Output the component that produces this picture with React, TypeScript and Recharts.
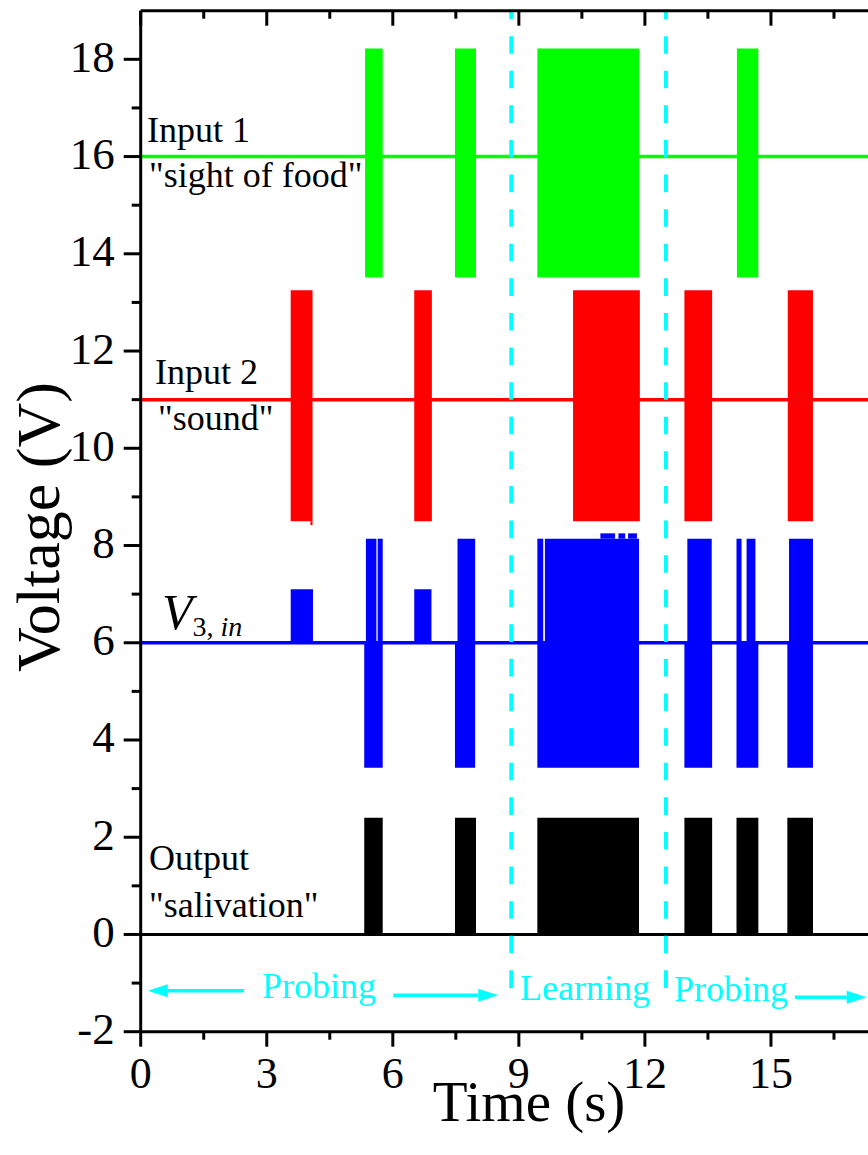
import { ComposedChart, Line, XAxis, YAxis, ReferenceArea, ReferenceLine } from 'recharts'

const serif = '"Liberation Serif", "Times New Roman", serif'
const CYAN = '#00ffff'

// axis ticks (majors get labels)
const xTicks = [0, 1.5, 3, 4.5, 6, 7.5, 9, 10.5, 12, 13.5, 15, 16.5]
const yTicks = [-2, -1, 0, 1, 2, 3, 4, 5, 6, 7, 8, 9, 10, 11, 12, 13, 14, 15, 16, 17, 18]

// resting levels of the four traces
const baseTimes = [0, 17.5]
const greenLevel = 16
const redLevel = 11
const blueLevel = 6
const blackLevel = 0

// pulse trains, [start, end] in s
const greenBursts = [[5.34, 5.76], [7.48, 7.98], [9.44, 11.86], [14.19, 14.7]]
const greenRange = [13.51, 18.22]
const redBursts = [[3.57, 4.09], [6.51, 6.93], [10.29, 11.88], [12.94, 13.6], [15.4, 16.0]]
const redRange = [8.5, 13.25]
const redTail = [[4.04, 4.09]]
const redTailRange = [8.42, 8.5]
const blueUpper = [[5.36, 5.61], [5.64, 5.76], [7.54, 7.96], [9.44, 9.58], [9.62, 11.86], [13.01, 13.59], [14.18, 14.3], [14.42, 14.63], [15.43, 16.0]]
const blueUpperRange = [6, 8.14]
const blueLower = [[5.32, 5.76], [7.48, 7.96], [9.44, 11.86], [12.94, 13.6], [14.18, 14.7], [15.39, 16.0]]
const blueLowerRange = [3.43, 6]
const blueSmall = [[3.57, 4.1], [6.51, 6.92]]
const blueSmallRange = [6, 7.1]
const blueSpikes = [[10.94, 11.29], [11.37, 11.53], [11.6, 11.81]]
const blueSpikeRange = [8.14, 8.25]
const blackBursts = [[5.32, 5.76], [7.48, 7.98], [9.44, 11.86], [12.94, 13.6], [14.18, 14.7], [15.39, 16.0]]
const blackRange = [0, 2.4]

// phase markers
const phaseLines = [8.82, 12.5]
const phaseSpan = [-1.1, 19]
const arrows = [
  { from: 2.46, to: 0.17, v: -1.16 },
  { from: 6.01, to: 8.51, v: -1.25 },
  { from: 15.57, to: 17.28, v: -1.29 },
]

const baseData = baseTimes.map((t) => ({
  t,
  green: greenLevel,
  red: redLevel,
  blue: blueLevel,
  black: blackLevel,
}))

const BottomTick = (props: any) => {
  const { x, y, payload } = props
  const major = payload.value % 3 === 0
  return (
    <g>
      <line x1={x} y1={y} x2={x} y2={y + (major ? 15 : 8)} stroke="#000" strokeWidth={3} />
      {major && (
        <text x={x} y={y + 56} textAnchor="middle" fontSize={44} fontFamily={serif} fill="#000">
          {payload.value}
        </text>
      )}
    </g>
  )
}

const TopTick = (props: any) => {
  const { x, y, payload } = props
  const major = payload.value % 3 === 0
  return <line x1={x} y1={y} x2={x} y2={y + (major ? 15 : 8)} stroke="#000" strokeWidth={3} />
}

const LeftTick = (props: any) => {
  const { x, y, payload } = props
  const major = payload.value % 2 === 0
  return (
    <g>
      <line x1={x} y1={y} x2={x - (major ? 17 : 9)} y2={y} stroke="#000" strokeWidth={3} />
      {major && (
        <text x={x - 26} y={y + 12.5} textAnchor="end" fontSize={45} fontFamily={serif} fill="#000">
          {payload.value}
        </text>
      )}
    </g>
  )
}

const RightTick = (props: any) => {
  const { x, y, payload } = props
  const major = payload.value % 2 === 0
  return <line x1={x} y1={y} x2={x - (major ? 17 : 9)} y2={y} stroke="#000" strokeWidth={3} />
}

const Arrow = (props: any) => {
  const { x1, y1, x2, y2 } = props
  const dir = x2 > x1 ? 1 : -1
  const base = x2 - dir * 20
  return (
    <g>
      <line x1={x1} y1={y1} x2={base} y2={y2} stroke={CYAN} strokeWidth={3.5} />
      <polygon points={`${x2},${y2} ${base},${y2 - 6.5} ${base},${y2 + 6.5}`} fill={CYAN} />
    </g>
  )
}

function bursts(list: number[][], range: number[], color: string, key: string) {
  return list.map(([a, b], i) => (
    <ReferenceArea
      key={`${key}${i}`}
      xAxisId="b"
      yAxisId="l"
      x1={a}
      x2={b}
      y1={range[0]}
      y2={range[1]}
      fill={color}
      fillOpacity={1}
      stroke="none"
    />
  ))
}

const notes = [
  { text: 'Input 1', x: 147, y: 142 },
  { text: '"sight of food"', x: 149, y: 187 },
  { text: 'Input 2', x: 155, y: 384 },
  { text: '"sound"', x: 158, y: 430 },
  { text: 'Output', x: 149, y: 870 },
  { text: '"salivation"', x: 149, y: 917 },
]

const phases = [
  { text: 'Probing', x: 262, y: 998 },
  { text: 'Learning', x: 520, y: 1000 },
  { text: 'Probing', x: 674, y: 1001 },
]

export default function App() {
  return (
    <div style={{ position: 'absolute', left: 0, top: 0, width: 868, height: 1155, overflow: 'hidden', background: '#fff' }}>
      <ComposedChart
        width={900}
        height={1155}
        data={baseData}
        margin={{ top: 0, right: 0, bottom: 0, left: 0 }}
        style={{ fontFamily: serif }}
      >
        <XAxis
          xAxisId="b"
          dataKey="t"
          type="number"
          orientation="bottom"
          domain={[0, 17.5]}
          ticks={xTicks}
          interval={0}
          height={123.3}
          tickSize={0}
          tickMargin={0}
          tickLine={false}
          tick={BottomTick}
          axisLine={{ stroke: '#000', strokeWidth: 3 }}
        />
        <XAxis
          xAxisId="t"
          dataKey="t"
          type="number"
          orientation="top"
          domain={[0, 17.5]}
          ticks={xTicks}
          interval={0}
          height={10.7}
          tickSize={0}
          tickMargin={0}
          tickLine={false}
          tick={TopTick}
          axisLine={{ stroke: '#000', strokeWidth: 3 }}
        />
        <YAxis
          yAxisId="l"
          type="number"
          orientation="left"
          domain={[-2, 19]}
          ticks={yTicks}
          interval={0}
          width={140.7}
          tickSize={0}
          tickMargin={0}
          tickLine={false}
          tick={LeftTick}
          axisLine={{ stroke: '#000', strokeWidth: 3 }}
        />
        <YAxis
          yAxisId="r"
          type="number"
          orientation="right"
          domain={[-2, 19]}
          ticks={yTicks}
          interval={0}
          width={24}
          tickSize={0}
          tickMargin={0}
          tickLine={false}
          tick={RightTick}
          axisLine={{ stroke: '#000', strokeWidth: 3 }}
        />

        {bursts(greenBursts, greenRange, '#00ff00', 'g')}
        {bursts(redBursts, redRange, '#ff0000', 'r')}
        {bursts(redTail, redTailRange, '#ff0000', 'rt')}
        {bursts(blueUpper, blueUpperRange, '#0000ff', 'bu')}
        {bursts(blueLower, blueLowerRange, '#0000ff', 'bl')}
        {bursts(blueSmall, blueSmallRange, '#0000ff', 'bs')}
        {bursts(blueSpikes, blueSpikeRange, '#0000ff', 'bk')}
        {bursts(blackBursts, blackRange, '#000000', 'k')}

        <Line xAxisId="b" yAxisId="l" dataKey="green" stroke="#00ff00" strokeWidth={3.5} dot={false} isAnimationActive={false} />
        <Line xAxisId="b" yAxisId="l" dataKey="red" stroke="#ff0000" strokeWidth={3.5} dot={false} isAnimationActive={false} />
        <Line xAxisId="b" yAxisId="l" dataKey="blue" stroke="#0000ff" strokeWidth={3.5} dot={false} isAnimationActive={false} />
        <Line xAxisId="b" yAxisId="l" dataKey="black" stroke="#000000" strokeWidth={3} dot={false} isAnimationActive={false} />

        {phaseLines.map((t) => (
          <ReferenceLine
            key={`p${t}`}
            xAxisId="b"
            yAxisId="l"
            segment={[{ x: t, y: phaseSpan[0] }, { x: t, y: phaseSpan[1] }]}
            stroke={CYAN}
            strokeWidth={4}
            strokeDasharray="17.6 17"
          />
        ))}
        {arrows.map((a, i) => (
          <ReferenceLine
            key={`a${i}`}
            xAxisId="b"
            yAxisId="l"
            segment={[{ x: a.from, y: a.v }, { x: a.to, y: a.v }]}
            shape={Arrow}
          />
        ))}

        {notes.map((n, i) => (
          <text key={`n${i}`} x={n.x} y={n.y} fontSize={36} fontFamily={serif} fill="#000">
            {n.text}
          </text>
        ))}
        <text x={162} y={629} fontSize={50} fontFamily={serif} fontStyle="italic" fill="#000">
          V
          <tspan fontSize={28} fontStyle="normal" dy={7}>3, </tspan>
          <tspan fontSize={28} fontStyle="italic">in</tspan>
        </text>
        {phases.map((p, i) => (
          <text key={`ph${i}`} x={p.x} y={p.y} fontSize={36} fontFamily={serif} fill={CYAN}>
            {p.text}
          </text>
        ))}
        <text x={529} y={1121} textAnchor="middle" fontSize={57} fontFamily={serif} fill="#000">
          Time (s)
        </text>
        <text x={59} y={527} textAnchor="middle" fontSize={62} fontFamily={serif} fill="#000" transform="rotate(-90 59 527)">
          Voltage (V)
        </text>
      </ComposedChart>
    </div>
  )
}
